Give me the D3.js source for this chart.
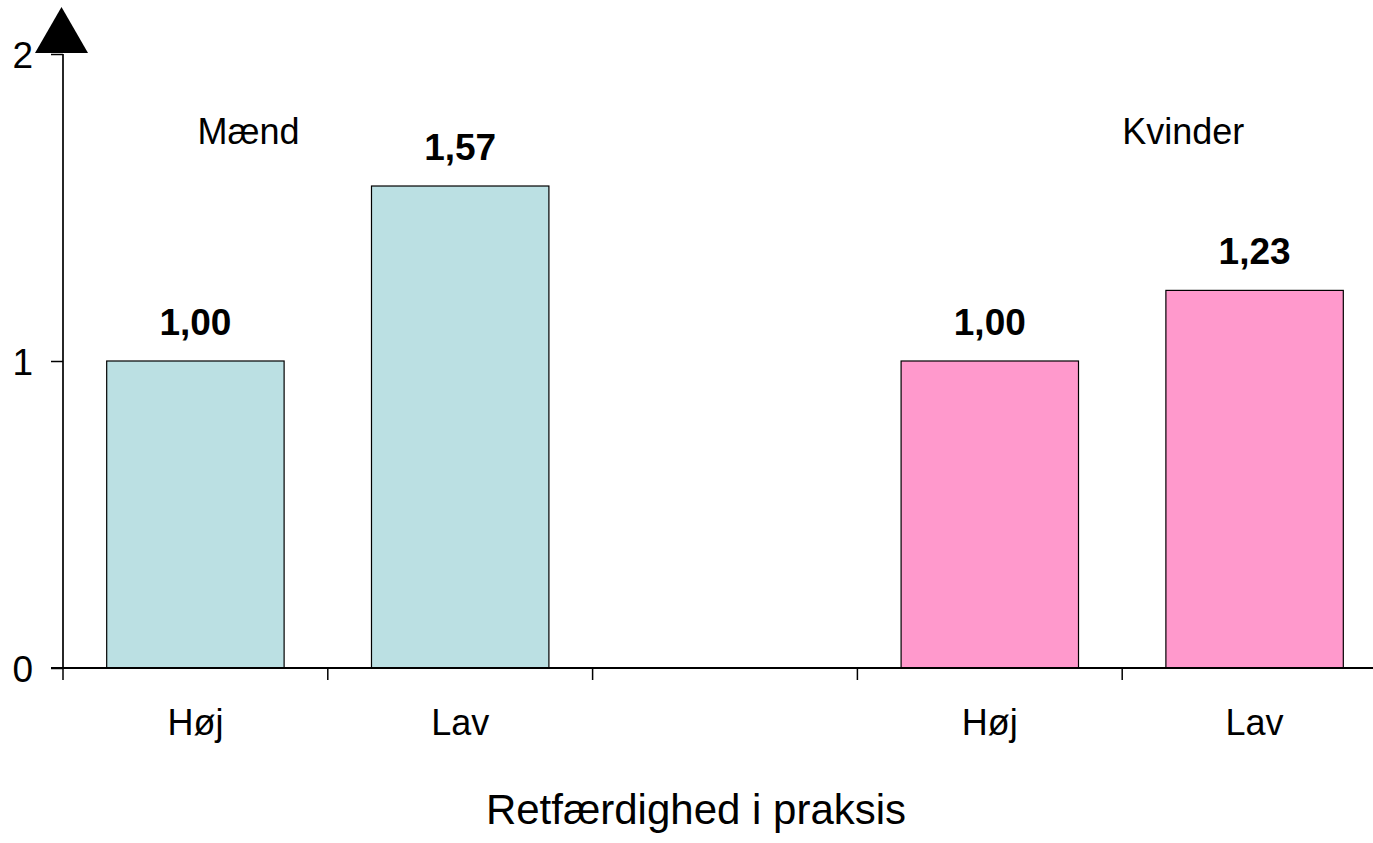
<!DOCTYPE html>
<html>
<head>
<meta charset="utf-8">
<script src="https://cdn.jsdelivr.net/npm/d3@7"></script>
<style>
  html, body { margin: 0; padding: 0; background: #fff; }
  svg { display: block; font-family: Arial, "Liberation Sans", sans-serif; }
</style>
</head>
<body>
<svg id="chart" width="1373" height="843"></svg>
<script>
// ---- data ----
const categories = ["Mænd-Høj", "Mænd-Lav", "gap", "Kvinder-Høj", "Kvinder-Lav"];
const tickLabels = ["Høj", "Lav", "", "Høj", "Lav"];
const values = [1.00, 1.57, null, 1.00, 1.23];
const valueLabels = ["1,00", "1,57", "", "1,00", "1,23"];
const groups = ["Mænd", "Mænd", null, "Kvinder", "Kvinder"];
const groupNames = ["Mænd", "Kvinder"];
const yTicks = [0, 1, 2];
const xTitle = "Retfærdighed i praksis";

const colors = { "Mænd": "#BBE0E3", "Kvinder": "#FF99CC" };

const svg = d3.select("#chart");
const x0 = 63, x1 = 1387, yBottom = 668, yTop = 54;

const xBand = d3.scaleBand().domain(categories).range([x0, x1]).padding(0);
const y = d3.scaleLinear().domain([0, 2]).range([yBottom, yTop]);
const step = xBand.step();
const barW = step * 0.67;

const rows = categories.map((c, i) => ({ c, v: values[i], lab: valueLabels[i], g: groups[i], t: tickLabels[i] }));

// bars
svg.append("g").selectAll("rect")
  .data(rows.filter(d => d.v != null))
  .join("rect")
  .attr("x", d => xBand(d.c) + (step - barW) / 2)
  .attr("y", d => y(d.v))
  .attr("width", barW)
  .attr("height", d => y(0) - y(d.v))
  .attr("fill", d => colors[d.g])
  .attr("stroke", "#000")
  .attr("stroke-width", 1.2);

// value labels
svg.append("g").selectAll("text")
  .data(rows.filter(d => d.v != null))
  .join("text")
  .attr("x", d => xBand(d.c) + step / 2)
  .attr("y", d => y(d.v) - 26)
  .attr("text-anchor", "middle")
  .attr("font-size", 37)
  .attr("font-weight", "bold")
  .attr("fill", "#000")
  .text(d => d.lab);

// x axis line
svg.append("line")
  .attr("x1", 51).attr("x2", 1373)
  .attr("y1", yBottom).attr("y2", yBottom)
  .attr("stroke", "#000").attr("stroke-width", 2);

// x boundary ticks
const boundaries = categories.map(c => xBand(c));
svg.append("g").selectAll("line")
  .data(boundaries)
  .join("line")
  .attr("x1", d => d).attr("x2", d => d)
  .attr("y1", yBottom).attr("y2", yBottom + 12)
  .attr("stroke", "#000").attr("stroke-width", 1.5);

// x tick labels
svg.append("g").selectAll("text")
  .data(rows)
  .join("text")
  .attr("x", d => xBand(d.c) + step / 2)
  .attr("y", 735)
  .attr("text-anchor", "middle")
  .attr("font-size", 36)
  .attr("fill", "#000")
  .text(d => d.t);

// y axis
const yAxis = d3.axisLeft(y).tickValues(yTicks).tickSize(12).tickPadding(0).tickFormat(d3.format("d"));
const gy = svg.append("g").attr("transform", `translate(${x0},0)`).call(yAxis);
gy.select(".domain").remove();
gy.selectAll(".tick line").attr("stroke", "#000").attr("stroke-width", 1.5);
gy.selectAll(".tick text")
  .attr("x", -30)
  .attr("dy", "0.36em")
  .attr("font-size", 37)
  .attr("font-family", "Arial, 'Liberation Sans', sans-serif")
  .attr("fill", "#000");

svg.append("line")
  .attr("x1", x0).attr("x2", x0)
  .attr("y1", yBottom).attr("y2", yTop)
  .attr("stroke", "#000").attr("stroke-width", 1.7);

// arrow head
svg.append("path")
  .attr("d", `M${x0 - 1.5},7 L${x0 + 25},53 L${x0 - 28},53 Z`)
  .attr("fill", "#000");

// group labels
svg.append("text")
  .attr("x", xBand("Mænd-Høj") + step / 2 + 2)
  .attr("y", 144)
  .attr("font-size", 36)
  .attr("fill", "#000")
  .text(groupNames[0]);
svg.append("text")
  .attr("x", xBand("Kvinder-Lav"))
  .attr("y", 144)
  .attr("font-size", 36)
  .attr("fill", "#000")
  .text(groupNames[1]);

// x title
svg.append("text")
  .attr("x", 696)
  .attr("y", 824)
  .attr("text-anchor", "middle")
  .attr("font-size", 42)
  .attr("fill", "#000")
  .text(xTitle);
</script>
</body>
</html>
